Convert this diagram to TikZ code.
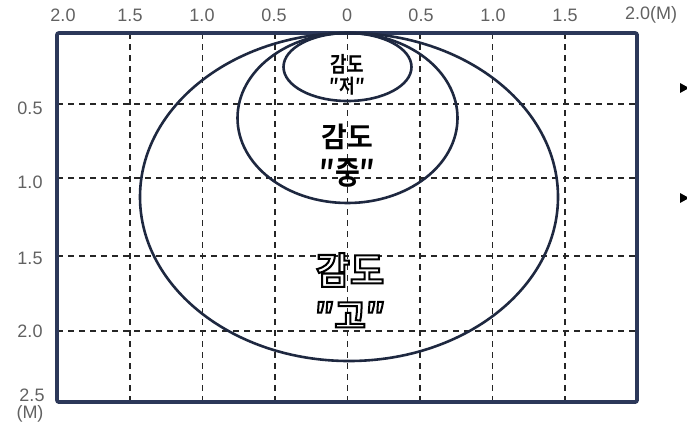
\documentclass[tikz,border=0pt]{standalone}
\usepackage{fontspec}
\setmainfont{Liberation Sans}
\newfontfamily\kor{Noto Sans CJK KR Bold}
\newcommand{\hollowtext}[1]{\color{white}\special{pdf:literal direct 0 G 2 Tr 2 w}#1\special{pdf:literal direct 0 Tr}}
\begin{document}
\begin{tikzpicture}[x=1pt,y=-1pt,
  gridline/.style={black!85, line width=1.4pt, dash pattern=on 6pt off 5pt},
  frame/.style={draw=navy, line width=3.8pt, rounded corners=2pt},
  zone/.style={draw=ink, line width=2.6pt},
  axislabel/.style={text=black!62, font=\fontsize{18}{18}\selectfont, inner sep=0pt},
  kortext/.style={inner sep=0pt, text=black}
]
\definecolor{navy}{HTML}{2C3859}
\definecolor{ink}{HTML}{1E2840}
\useasboundingbox (0,0) rectangle (687,429);
\clip (0,0) rectangle (687,429);
% grid
\foreach \gx in {130,202.5,275,347.5,420,492.5,565}
  \draw[gridline] (\gx,33) -- (\gx,402);
\foreach \gy in {104,178,256,331}
  \draw[gridline] (57,\gy) -- (637,\gy);
% frame
\draw[frame] (57,33) rectangle (637,402);
% zones
\draw[zone] (349,197) ellipse [x radius=209, y radius=164];
\draw[zone] (347.5,118) ellipse [x radius=110, y radius=85];
\draw[zone] (347.5,67) ellipse [x radius=64, y radius=34];
% top labels
\node[axislabel] (t1) at (63,15) {2.0};
\node[axislabel] (t2) at (130,15) {1.5};
\node[axislabel] (t3) at (202,15) {1.0};
\node[axislabel] (t4) at (274,15) {0.5};
\node[axislabel] (t5) at (347,15) {0};
\node[axislabel] (t6) at (421,15) {0.5};
\node[axislabel] (t7) at (493,15) {1.0};
\node[axislabel] (t8) at (565,15) {1.5};
\node[axislabel] (t9) at (651,15) {2.0(M)};
% left labels
\node[axislabel] (l1) at (30,108) {0.5};
\node[axislabel] (l2) at (30,182) {1.0};
\node[axislabel] (l3) at (30,258) {1.5};
\node[axislabel] (l4) at (30,331) {2.0};
\node[axislabel] (l5) at (32,395) {2.5};
\node[axislabel] (l6) at (30,414) {(M)};
% texts
\node[kortext, font=\kor\fontsize{18}{18}\selectfont, yscale=1.2] (s1) at (347.5,64) {감도};
\node[kortext, font=\kor\fontsize{17}{17}\selectfont, yscale=1.15] (s2) at (347.5,86) {″저″};
\node[kortext, font=\kor\fontsize{28}{28}\selectfont] (m1) at (347.5,137) {감도};
\node[kortext, font=\kor\fontsize{27}{27}\selectfont, yscale=1.2] (m2) at (347.5,173) {″중″};
\node[kortext, font=\kor\fontsize{37}{37}\selectfont] (b1) at (350,270) {\hollowtext{감도}};
\node[kortext, font=\kor\fontsize{34}{34}\selectfont] (b2) at (350,315) {\hollowtext{″고″}};
% bullets
\fill[black] (680,83) -- (680,93) -- (689,88) -- cycle;
\fill[black] (680,193) -- (680,203) -- (689,198) -- cycle;
\end{tikzpicture}
\end{document}
